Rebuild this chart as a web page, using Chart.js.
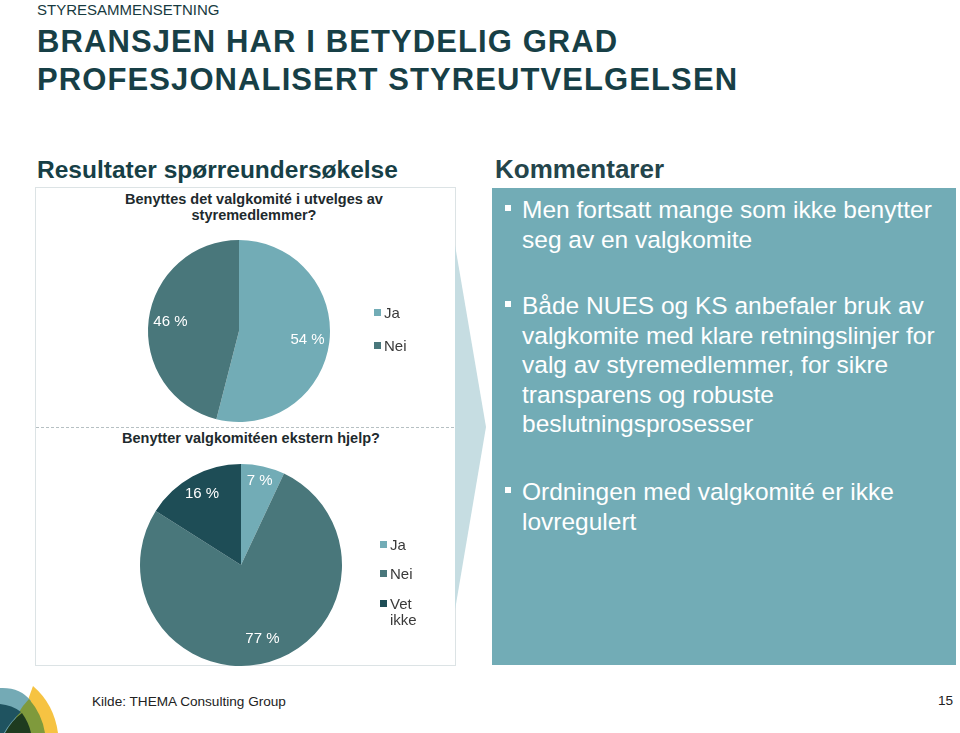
<!DOCTYPE html>
<html lang="no">
<head>
<meta charset="utf-8">
<title>Styresammensetning</title>
<script src="https://cdn.jsdelivr.net/npm/chart.js@4.4.1/dist/chart.umd.min.js"></script>
<style>
    body { margin: 0; background: #fff; font-family: "Liberation Sans", Arial, sans-serif; }
    #slide { position: relative; width: 960px; height: 733px; overflow: hidden; }
    .abs { position: absolute; white-space: nowrap; }
    .kicker { left: 37px; top: 2px; font-size: 15px; line-height: 15px; color: #173a40; }
    .title { left: 37px; top: 23px; font-size: 31px; line-height: 38px; font-weight: bold; letter-spacing: 1.1px; color: #173f46; }
    .subhead { top: 158px; font-size: 24.5px; line-height: 24px; font-weight: bold; color: #173f46; }
    .box { position: absolute; left: 35px; top: 187px; width: 419px; height: 477px; border: 1px solid #dce3e5; }
    .sep { position: absolute; left: 36px; top: 427px; width: 418px; border-top: 1px dashed #b6c0c3; }
    .ctitle { position: absolute; text-align: center; font-size: 14.5px; line-height: 16px; font-weight: bold; color: #1e2a2d; }
    canvas { position: absolute; }
    .legend { position: absolute; font-size: 15px; color: #3a3a3a; }
    .legend div { position: absolute; left: 0; white-space: nowrap; line-height: 16px; }
    .legend span.sw { display: inline-block; width: 7px; height: 7px; margin-right: 3px; vertical-align: top; margin-top: 4px; }
    .panel { position: absolute; left: 492px; top: 188px; width: 464px; height: 477px; background: #72acb6; }
    .bullet { position: absolute; left: 522px; font-size: 24.5px; line-height: 29.5px; color: #fff; white-space: nowrap; }
    .bullet::before { content: ""; position: absolute; left: -17px; top: 10px; width: 6px; height: 6px; background: #fff; }
    .footer { left: 92px; top: 694px; font-size: 13.6px; line-height: 16px; color: #222; }
    .pageno { left: 938px; top: 693px; font-size: 13.6px; line-height: 16px; color: #222; }
</style>
</head>
<body>
<div id="slide">
    <div class="abs kicker">STYRESAMMENSETNING</div>
    <div class="abs title">BRANSJEN HAR I BETYDELIG GRAD<br>PROFESJONALISERT STYREUTVELGELSEN</div>

    <div class="abs subhead" style="left:37px;">Resultater spørreundersøkelse</div>
    <div class="abs subhead" style="left:495px; font-size:26px; line-height:26px; top:156px; color:#24454b;">Kommentarer</div>

    <div class="box"></div>
    <div class="sep"></div>

    <div class="ctitle" style="left:36px; width:436px; top:191px;">Benyttes det valgkomité i utvelges av<br>styremedlemmer?</div>
    <canvas id="chart-board" width="418" height="198" style="left:36px; top:228px;"></canvas>
    <div class="legend" id="legend-board" style="left:374px; top:305px;"></div>

    <div class="ctitle" style="left:36px; width:430px; top:430px;">Benytter valgkomitéen ekstern hjelp?</div>
    <canvas id="chart-external" width="418" height="211" style="left:36px; top:455px;"></canvas>
    <div class="legend" id="legend-external" style="left:380px; top:537px;"></div>

    <svg style="position:absolute; left:455px; top:188px;" width="34" height="477">
        <polygon points="0,57 31,239 0,422" fill="#c6dde2"/>
    </svg>

    <div class="panel"></div>
    <div class="bullet" style="top:195px;">Men fortsatt mange som ikke benytter<br>seg av en valgkomite</div>
    <div class="bullet" style="top:291px;">Både NUES og KS anbefaler bruk av<br>valgkomite med klare retningslinjer for<br>valg av styremedlemmer, for sikre<br>transparens og robuste<br>beslutningsprosesser</div>
    <div class="bullet" style="top:477px;">Ordningen med valgkomité er ikke<br>lovregulert</div>

    <svg style="position:absolute; left:0; top:680px;" width="70" height="53">
        <path d="M33,6 Q54,24 58,53 L22,53 Q24,28 33,6 Z" fill="#f6c342"/>
        <path d="M0,8 Q20,7 31,21 Q22,34 18,53 L0,53 Z" fill="#74aab5"/>
        <path d="M29,19 Q42,34 45,53 L10,53 Q16,32 29,19 Z" fill="#7f9a3c"/>
        <path d="M0,24 Q12,25 21,32 Q10,42 4,53 L0,53 Z" fill="#1f5360"/>
        <path d="M5,53 Q12,40 22,33 Q29,43 31,53 Z" fill="#1e3b1f"/>
    </svg>
    <div class="abs footer">Kilde: THEMA Consulting Group</div>
    <div class="abs pageno">15</div>
</div>

<script>
// ===== Survey data =====
const boardLabels = ['Ja', 'Nei'];
const boardValues = [54, 46];

const externalLabels = ['Ja', 'Nei', 'Vet ikke'];
const externalValues = [7, 77, 16];

// colours for the slices (style, kept apart from the data)
const lightTeal = '#72acb6';
const midTeal = '#49777b';
const darkTeal = '#1e4d56';

// Percent labels drawn inside the slices
const pctLabels = {
    id: 'pctLabels',
    afterDatasetsDraw(chart, args, opts) {
        const ctx = chart.ctx;
        const meta = chart.getDatasetMeta(0);
        const values = chart.data.datasets[0].data;
        ctx.save();
        ctx.font = '15px "Liberation Sans", Arial, sans-serif';
        ctx.fillStyle = '#ffffff';
        ctx.textAlign = 'center';
        ctx.textBaseline = 'middle';
        meta.data.forEach((arc, i) => {
            const p = arc.getProps(['x', 'y', 'startAngle', 'endAngle', 'outerRadius'], true);
            const mid = (p.startAngle + p.endAngle) / 2;
            const r = p.outerRadius * opts.dist[i];
            ctx.fillText(values[i] + ' %', p.x + Math.cos(mid) * r, p.y + Math.sin(mid) * r);
        });
        ctx.restore();
    }
};

function makePie(canvasId, labels, values, colors, padding, dist) {
    const ctx = document.getElementById(canvasId).getContext('2d');
    return new Chart(ctx, {
        type: 'pie',
        data: {
            labels: labels,
            datasets: [{
                data: values,
                backgroundColor: colors,
                borderWidth: 0
            }]
        },
        options: {
            responsive: false,
            animation: false,
            layout: { padding: padding },
            plugins: {
                legend: { display: false },
                tooltip: { enabled: false },
                pctLabels: { dist: dist }
            }
        },
        plugins: [pctLabels]
    });
}

function buildLegend(el, labels, colors, rows) {
    let html = '';
    labels.forEach((label, i) => {
        const text = label.replace(' ', '<br><span style="padding-left:10px"></span>');
        html += `<div style="top:${rows[i]}px"><span class="sw" style="background:${colors[i]}"></span>${text}</div>`;
    });
    document.getElementById(el).innerHTML = html;
}

const boardColors = [lightTeal, midTeal];
const externalColors = [lightTeal, midTeal, darkTeal];

makePie('chart-board', boardLabels, boardValues, boardColors,
    { left: 112, right: 124, top: 12, bottom: 4 }, [0.76, 0.76]);
makePie('chart-external', externalLabels, externalValues, externalColors,
    { left: 104, right: 112, top: 9, bottom: 0 }, [0.85, 0.76, 0.8]);

buildLegend('legend-board', boardLabels, boardColors, [0, 33]);
buildLegend('legend-external', externalLabels, externalColors, [0, 29, 59]);
</script>
</body>
</html>
